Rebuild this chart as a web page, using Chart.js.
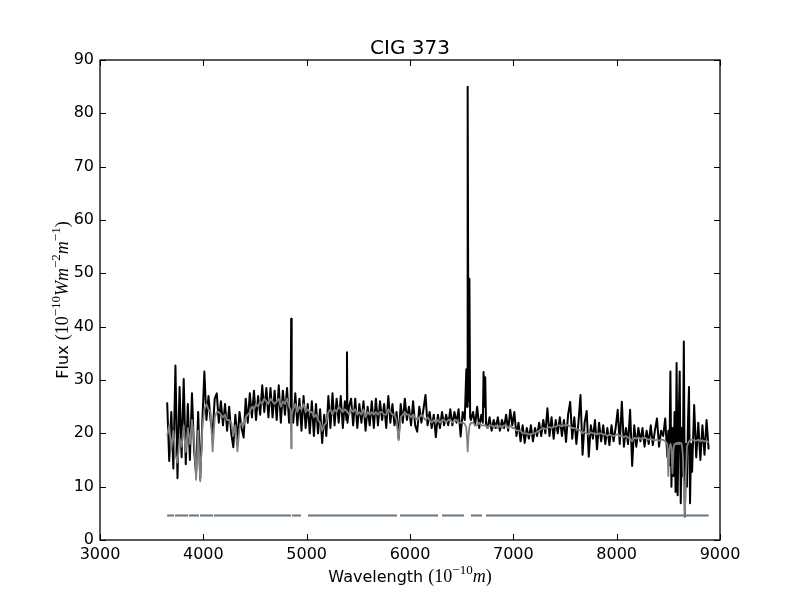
<!DOCTYPE html>
<html>
<head>
<meta charset="utf-8">
<title>CIG 373</title>
<script src="https://cdn.jsdelivr.net/npm/chart.js@4.4.1/dist/chart.umd.min.js"></script>
<style>
  body { margin: 0; background: #fff; }
  canvas { display: block; }
</style>
</head>
<body>
<canvas id="c" width="800" height="600"></canvas>
<script>
// wavelength grid (Angstrom)
const waves = [
  3650,3670,3690,3710,3730,3750,3770,3790,3810,3830,
  3850,3870,3890,3910,3930,3950,3970,3990,4010,4030,
  4050,4070,4090,4110,4130,4150,4170,4190,4210,4230,
  4250,4270,4290,4310,4330,4350,4370,4390,4410,4430,
  4450,4470,4490,4510,4530,4550,4570,4590,4610,4630,
  4650,4670,4690,4710,4730,4750,4770,4790,4810,4830,
  4845,4850,4855,4870,4890,4910,4930,4950,4970,4990,5010,5030,
  5050,5070,5090,5110,5130,5150,5170,5190,5210,5230,
  5250,5270,5290,5310,5330,5350,5370,5385,5390,5395,5410,5430,
  5450,5470,5490,5510,5530,5550,5570,5590,5610,5630,
  5650,5670,5690,5710,5730,5750,5770,5790,5810,5830,
  5850,5870,5890,5910,5930,5950,5970,5990,6010,6030,
  6050,6070,6090,6110,6130,6150,6170,6190,6210,6230,
  6250,6270,6290,6310,6330,6350,6370,6390,6410,6430,
  6450,6470,6490,6510,6530,6545,6552,6558,6566,6575,6582,6590,6610,6630,
  6650,6670,6690,6705,6712,6720,6728,6736,6750,6770,6790,6810,6830,
  6850,6870,6890,6910,6930,6950,6970,6990,7010,7030,
  7050,7070,7090,7110,7130,7150,7170,7190,7210,7230,
  7250,7270,7290,7310,7330,7350,7370,7390,7410,7430,
  7450,7470,7490,7510,7530,7550,7570,7590,7610,7630,
  7650,7670,7690,7710,7730,7750,7770,7790,7810,7830,
  7850,7870,7890,7910,7930,7950,7970,7990,8010,8030,
  8050,8070,8090,8110,8130,8150,8170,8190,8210,8230,
  8250,8270,8290,8310,8330,8350,8370,8390,8410,8430,
  8450,8470,8490,8500,8510,8520,8530,8540,8550,8560,
  8570,8580,8590,8600,8610,8620,8630,8640,8650,8660,
  8670,8680,8690,8700,8710,8720,8730,8750,8770,8790,
  8810,8830,8850,8870,8890
];

// observed flux (black)
const flux = [
  25.8,14.8,24.0,13.4,32.7,11.6,28.7,15.5,30.2,14.2,
  25.5,15.0,27.5,17.0,12.5,24.0,11.5,22.0,31.6,22.5,
  27.0,22.5,20.0,26.5,27.5,22.0,26.0,21.5,25.5,20.5,
  25.0,20.0,17.4,23.5,18.5,24.0,21.0,19.2,26.5,22.0,
  27.5,23.0,28.0,22.5,27.0,23.5,29.0,24.0,28.5,23.0,
  28.5,23.0,28.0,22.5,29.0,22.0,28.0,23.5,28.5,22.0,
  25.0,41.5,22.5,22.0,27.5,21.5,26.5,20.5,27.0,21.0,25.5,20.0,
  26.0,19.5,25.5,20.0,24.5,18.2,23.5,19.5,27.0,21.0,
  27.5,21.5,26.5,22.0,27.0,21.0,26.0,22.5,35.2,22.0,25.0,26.5,
  21.5,26.5,21.0,25.5,22.0,26.0,20.5,25.0,21.5,26.0,
  21.0,26.5,21.5,26.0,22.5,25.5,21.0,27.0,22.0,25.5,
  21.5,24.0,19.0,25.5,22.0,26.5,22.5,25.0,21.5,26.0,
  21.5,20.3,25.0,22.0,24.5,27.2,21.5,24.0,21.0,23.5,
  19.3,23.5,21.0,24.0,21.5,23.5,21.5,24.5,21.5,24.0,
  22.0,24.5,19.4,24.0,22.5,32.0,25.0,85.0,26.0,49.0,23.0,22.5,24.0,21.5,
  25.0,21.0,23.5,22.0,31.5,25.0,30.5,21.5,21.0,23.0,20.5,22.5,21.0,
  23.0,20.5,22.5,21.0,23.5,20.5,24.4,21.5,24.0,19.5,
  22.0,18.5,21.5,18.2,21.0,19.0,21.5,18.5,21.0,19.5,
  22.0,19.5,22.5,20.0,24.7,19.5,23.0,19.0,22.5,20.0,
  23.0,19.5,22.5,18.4,23.5,25.9,19.0,23.0,18.0,22.0,
  27.2,16.0,22.0,24.2,15.6,21.5,19.0,22.5,17.0,22.0,
  18.5,21.5,18.0,21.0,17.8,21.5,18.5,21.0,24.4,18.0,
  25.9,17.5,21.0,18.0,24.4,13.9,21.5,17.5,21.0,18.5,
  21.0,17.5,20.5,18.0,21.5,17.8,20.5,22.8,17.5,20.5,
  19.5,22.8,15.6,20.5,14.0,31.6,10.0,21.0,12.0,24.0,
  9.0,33.2,8.4,22.0,31.6,6.9,21.0,12.0,37.2,4.4,
  18.0,10.0,22.0,28.7,6.9,18.0,12.8,25.3,15.5,22.0,
  15.0,21.5,16.0,22.5,17.0
];

// fitted model (grey)
const model = [
  19.5,21.5,17.0,20.5,16.0,14.5,19.0,17.5,21.5,16.5,
  21.0,18.0,22.5,19.0,11.3,20.5,11.0,21.0,24.5,25.5,
  24.5,24.0,16.6,23.0,24.0,24.0,23.5,23.0,23.5,22.5,
  22.5,22.0,19.5,21.5,16.6,21.0,22.0,21.5,23.0,23.5,
  24.0,25.0,24.5,25.5,25.0,26.0,25.5,26.5,26.0,25.5,
  26.5,26.0,25.5,26.0,26.5,25.0,26.0,25.5,26.5,25.0,
  24.5,17.2,23.5,24.5,25.5,24.0,25.0,24.5,25.5,24.0,24.5,24.0,
  24.0,23.0,23.5,22.5,22.0,20.5,21.5,22.0,24.0,24.5,
  23.5,24.5,24.0,25.0,24.5,24.0,24.5,24.2,24.0,24.0,23.5,24.5,
  24.0,24.5,23.5,24.0,23.5,24.5,23.0,24.0,23.5,24.0,
  23.5,24.0,23.5,24.0,24.0,23.5,23.5,24.5,24.0,23.5,
  23.5,22.5,18.7,23.0,23.5,24.0,23.5,23.5,23.0,23.5,
  23.0,22.5,23.0,23.5,23.0,22.5,23.0,22.5,22.0,22.5,
  22.0,22.5,22.0,22.5,22.5,22.0,22.5,22.5,22.0,22.5,
  22.5,22.0,22.0,22.0,21.8,21.0,19.0,16.6,19.5,21.2,21.8,22.0,22.0,21.5,
  21.5,22.0,21.5,21.5,21.5,21.5,21.5,21.5,21.0,21.5,21.5,21.0,21.5,
  21.0,21.5,21.0,21.5,21.5,21.0,21.5,21.0,21.0,20.5,
  20.5,20.5,20.0,20.0,20.0,19.8,19.8,20.0,20.0,20.3,
  20.5,20.8,21.0,20.8,21.0,21.2,21.0,21.3,21.2,21.5,
  21.5,21.3,21.5,21.6,21.5,21.3,21.0,21.0,20.8,20.7,
  20.5,20.0,20.3,20.0,19.8,20.2,20.0,20.0,19.8,20.0,
  20.0,19.8,19.8,19.5,19.8,19.6,19.5,19.7,19.8,19.5,
  19.5,19.3,19.5,19.2,19.0,18.5,19.2,19.0,19.2,19.0,
  19.0,19.2,19.0,18.8,19.0,18.8,18.7,18.8,18.6,18.8,
  18.8,18.5,18.0,12.0,17.0,18.0,17.5,12.5,17.0,18.0,
  18.0,18.2,18.0,18.3,18.0,18.2,18.0,16.0,10.0,4.4,
  12.0,17.5,18.0,18.5,18.7,18.8,18.8,18.7,18.6,18.8,
  18.5,18.7,18.5,18.6,18.3
];

// masked-region indicator segments
const maskStart = [3650,3726,3861,3968,4103,4858,5013,5903,6310,6590,6735];
const maskEnd   = [3716,3852,3958,4094,4848,4945,5874,6271,6523,6697,8890];
const maskLevel = 4.6;

const xTicks = [3000,4000,5000,6000,7000,8000,9000];
const yTicks = [0,10,20,30,40,50,60,70,80,90];

function toPoints(xs, ys) {
  return xs.map((x, i) => ({ x: x, y: ys[i] }));
}

const maskPoints = [];
maskStart.forEach((s, i) => {
  maskPoints.push({ x: s, y: maskLevel }, { x: maskEnd[i], y: maskLevel }, { x: maskEnd[i], y: null });
});

const SANS = '"DejaVu Sans", sans-serif';
const SERIF = '"Liberation Serif", "DejaVu Serif", serif';

// draw a run of differently styled text pieces centred at (cx, y)
function drawParts(ctx, parts, cx, y) {
  let total = 0;
  parts.forEach(p => { ctx.font = p.f; p.w = ctx.measureText(p.t).width; total += p.w; });
  let x = cx - total / 2;
  ctx.textAlign = 'left';
  ctx.textBaseline = 'alphabetic';
  parts.forEach(p => {
    ctx.font = p.f;
    ctx.fillText(p.t, x, y + (p.dy || 0));
    x += p.w;
  });
}

const framePlugin = {
  id: 'frame',
  afterDraw(chart) {
    const ctx = chart.ctx;
    const a = chart.chartArea;
    const xs = chart.scales.x, ys = chart.scales.y;
    ctx.save();
    ctx.strokeStyle = '#000';
    ctx.lineWidth = 1.3;
    ctx.strokeRect(a.left, a.top, a.right - a.left, a.bottom - a.top);
    // inward ticks on all four sides
    ctx.lineWidth = 1;
    const len = 6;
    ctx.beginPath();
    xTicks.forEach(v => {
      const px = Math.round(xs.getPixelForValue(v)) + 0.5;
      ctx.moveTo(px, a.bottom); ctx.lineTo(px, a.bottom - len);
      ctx.moveTo(px, a.top); ctx.lineTo(px, a.top + len);
    });
    yTicks.forEach(v => {
      const py = Math.round(ys.getPixelForValue(v)) + 0.5;
      ctx.moveTo(a.left, py); ctx.lineTo(a.left + len, py);
      ctx.moveTo(a.right, py); ctx.lineTo(a.right - len, py);
    });
    ctx.stroke();

    ctx.fillStyle = '#000';
    // title
    drawParts(ctx, [{ t: 'CIG 373', f: '20px ' + SANS }], (a.left + a.right) / 2, 54);
    // x label
    drawParts(ctx, [
      { t: 'Wavelength ', f: '16px ' + SANS },
      { t: '(10', f: '18px ' + SERIF },
      { t: '\u221210', f: '13px ' + SERIF, dy: -8 },
      { t: 'm', f: 'italic 18px ' + SERIF },
      { t: ')', f: '18px ' + SERIF }
    ], (a.left + a.right) / 2, 582);
    // y label
    ctx.translate(68, (a.top + a.bottom) / 2);
    ctx.rotate(-Math.PI / 2);
    drawParts(ctx, [
      { t: 'Flux ', f: '16px ' + SANS },
      { t: '(10', f: '18px ' + SERIF },
      { t: '\u221210', f: '13px ' + SERIF, dy: -8 },
      { t: 'Wm', f: 'italic 18px ' + SERIF },
      { t: '\u22122', f: '13px ' + SERIF, dy: -8 },
      { t: 'm', f: 'italic 18px ' + SERIF },
      { t: '\u22121', f: '13px ' + SERIF, dy: -8 },
      { t: ')', f: '18px ' + SERIF }
    ], 0, 0);
    ctx.restore();
  }
};

new Chart(document.getElementById('c').getContext('2d'), {
  type: 'line',
  data: {
    datasets: [
      { label: 'model', data: toPoints(waves, model), borderColor: '#808080', borderWidth: 1.8, order: 1 },
      { label: 'flux', data: toPoints(waves, flux), borderColor: '#000000', borderWidth: 2, order: 2 },
      { label: 'mask', data: maskPoints, borderColor: '#66757f', borderWidth: 2, spanGaps: false, order: 0 }
    ]
  },
  options: {
    responsive: false,
    animation: false,
    devicePixelRatio: 1,
    layout: { padding: { top: 60, right: 80, left: 0, bottom: 0 } },
    elements: {
      point: { radius: 0 },
      line: { tension: 0, borderJoinStyle: 'round', borderCapStyle: 'butt' }
    },
    plugins: { legend: { display: false }, tooltip: { enabled: false } },
    scales: {
      x: {
        type: 'linear', min: 3000, max: 9000,
        afterBuildTicks(s) { s.ticks = xTicks.map(v => ({ value: v })); },
        ticks: { color: '#000', font: { family: 'DejaVu Sans', size: 16 }, padding: 5, maxRotation: 0, callback: v => String(v) },
        grid: { display: false, drawTicks: false },
        border: { display: false },
        afterFit(s) { s.height = 60; }
      },
      y: {
        type: 'linear', min: 0, max: 90,
        afterBuildTicks(s) { s.ticks = yTicks.map(v => ({ value: v })); },
        ticks: { color: '#000', font: { family: 'DejaVu Sans', size: 16 }, padding: 6, callback: v => String(v) },
        grid: { display: false, drawTicks: false },
        border: { display: false },
        afterFit(s) { s.width = 100; }
      }
    }
  },
  plugins: [framePlugin]
});
</script>
</body>
</html>
